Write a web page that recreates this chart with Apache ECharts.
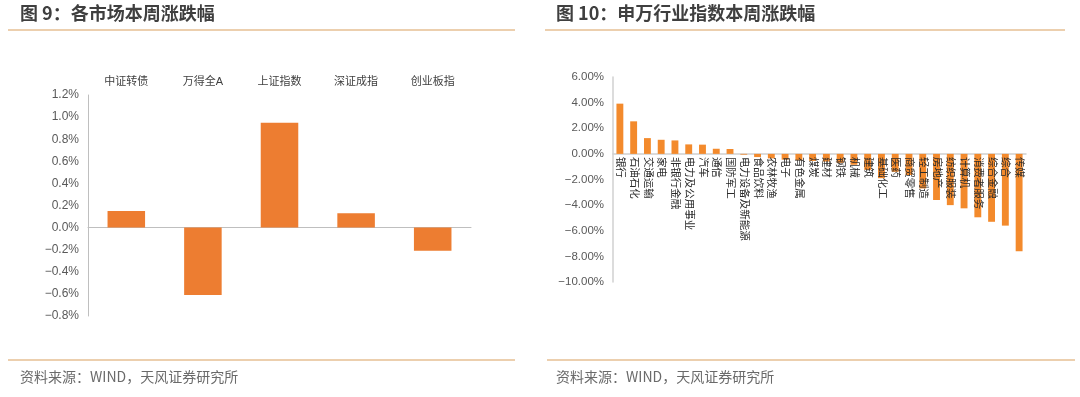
<!DOCTYPE html>
<html>
<head>
<meta charset="utf-8">
<script src="https://cdn.jsdelivr.net/npm/echarts@6/dist/echarts.min.js"></script>
<style>
  html, body { margin: 0; padding: 0; background: #fff; }
  #wrap { position: relative; width: 1080px; height: 397px; }
  #left { position: absolute; left: 0; top: 0; width: 540px; height: 397px; }
  #right { position: absolute; left: 540px; top: 0; width: 540px; height: 397px; }
</style>
</head>
<body>
<div id="wrap">
  <div id="left"></div>
  <div id="right"></div>
</div>
<script>
// 图9 各市场本周涨跌幅 (%)
const marketNames = ['中证转债', '万得全A', '上证指数', '深证成指', '创业板指'];
const marketChg = [0.15, -0.61, 0.95, 0.13, -0.21];
const marketTicks = { min: -0.8, max: 1.2, interval: 0.2 };

// 图10 行业指数本周涨跌幅 (%)
const industryNames = ['银行', '石油石化', '交通运输', '家电', '非银行金融', '电力及公用事业', '汽车', '通信', '国防军工',
  '电力设备及新能源', '食品饮料', '农林牧渔', '电子', '有色金属', '煤炭', '建材', '钢铁', '机械', '建筑', '基础化工',
  '医药', '商贸零售', '轻工制造', '房地产', '纺织服装', '计算机', '消费者服务', '综合金融', '综合', '传媒'];
const industryChg = [3.92, 2.54, 1.23, 1.1, 1.05, 0.74, 0.72, 0.4, 0.38,
  -0.06, -0.25, -0.35, -0.45, -0.5, -0.55, -0.6, -0.7, -0.85, -1.25, -1.9,
  -1.4, -1.65, -2.7, -3.6, -4.0, -4.25, -4.95, -5.3, -5.6, -7.6];
const industryTicks = { min: -10, max: 6, interval: 2 };

const FONT = '"Liberation Sans", "Noto Sans CJK SC", sans-serif';
const CJK = '"Noto Sans CJK SC", sans-serif';
const pct = (digits) => (v) => (v < 0 ? '\u2212' : '') + Math.abs(v).toFixed(digits) + '%';

const titleText = (x, text) => ({
  type: 'text', left: x, top: 4,
  style: { text, font: 'bold 18px ' + CJK, fill: '#3f3f3f' }
});
const hline = (x1, x2, y) => ({
  type: 'line', shape: { x1, y1: y, x2, y2: y },
  style: { stroke: '#e6bf93', lineWidth: 1.5 }
});
const sourceText = (x) => ({
  type: 'text', left: x, top: 370,
  style: { text: '资料来源：WIND，天风证券研究所', font: '14px ' + CJK, fill: '#6a6a6a' }
});

// 左图：各市场
const leftChart = echarts.init(document.getElementById('left'));
leftChart.setOption({
  animation: false,
  grid: { left: 88, right: 69, top: 95, bottom: 81 },
  xAxis: [
    {
      type: 'category', data: marketNames, position: 'bottom',
      axisLine: { onZero: true, lineStyle: { color: '#bfbfbf', width: 1 } },
      axisTick: { show: false }, axisLabel: { show: false }
    },
    {
      type: 'category', data: marketNames, position: 'top',
      axisLine: { show: false, onZero: false }, axisTick: { show: false },
      axisLabel: { color: '#404040', fontSize: 11, fontFamily: FONT, margin: 8 }
    }
  ],
  yAxis: {
    type: 'value', min: marketTicks.min, max: marketTicks.max, interval: marketTicks.interval,
    axisLine: { show: true, lineStyle: { color: '#bfbfbf' } },
    axisTick: { show: false }, splitLine: { show: false },
    axisLabel: { color: '#595959', fontSize: 12, fontFamily: FONT, margin: 9, formatter: pct(1) }
  },
  series: [{
    type: 'bar', xAxisIndex: 0, data: marketChg,
    barWidth: '49%', itemStyle: { color: '#ed7d31' }
  }],
  graphic: [
    titleText(20, '图 9：各市场本周涨跌幅'),
    hline(8, 515, 30),
    hline(8, 515, 360),
    sourceText(20)
  ]
});

// 右图：行业指数
// 主网格放柱子；另一个网格的底边正好落在 0 轴上，只用来画竖排的行业名
const plotTop = 77, plotBottom = 282;
const zeroY = plotTop + (industryTicks.max / (industryTicks.max - industryTicks.min)) * (plotBottom - plotTop);

const rightChart = echarts.init(document.getElementById('right'));
rightChart.setOption({
  animation: false,
  grid: [
    { left: 73, right: 54, top: plotTop, bottom: 397 - plotBottom },
    { left: 73, right: 54, top: plotTop, bottom: 397 - zeroY }
  ],
  xAxis: [
    {
      gridIndex: 0, type: 'category', data: industryNames,
      axisLine: { onZero: true, lineStyle: { color: '#d0d0d0', width: 1.5 } },
      axisTick: { show: false }, axisLabel: { show: false }
    },
    {
      gridIndex: 1, type: 'category', data: industryNames, position: 'bottom', z: 5,
      axisLine: { show: false, onZero: false }, axisTick: { show: false },
      axisLabel: { color: '#2b2b2b', fontSize: 10.5, fontFamily: FONT, rotate: -90, margin: 3, interval: 0 }
    }
  ],
  yAxis: [
    {
      gridIndex: 0, type: 'value', min: industryTicks.min, max: industryTicks.max, interval: industryTicks.interval,
      axisLine: { show: true, lineStyle: { color: '#d0d0d0', width: 1.5 } },
      axisTick: { show: false }, splitLine: { show: false },
      axisLabel: { color: '#595959', fontSize: 11.5, fontFamily: FONT, margin: 9, formatter: pct(2) }
    },
    { gridIndex: 1, type: 'value', show: false }
  ],
  series: [{
    type: 'bar', xAxisIndex: 0, yAxisIndex: 0, data: industryChg,
    barWidth: '50%', itemStyle: { color: '#f38a2c' }
  }],
  graphic: [
    titleText(16, '图 10：申万行业指数本周涨跌幅'),
    hline(5, 525, 30),
    hline(7, 535, 360),
    sourceText(16)
  ]
});
</script>
</body>
</html>
